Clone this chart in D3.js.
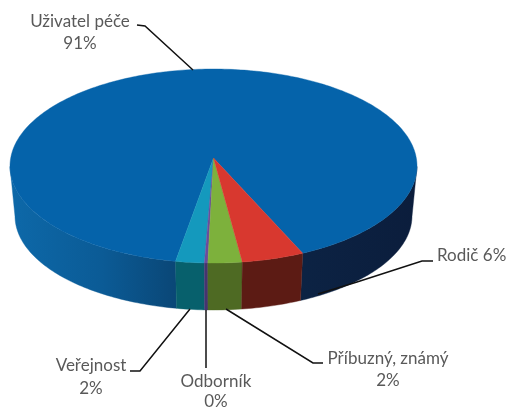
<!DOCTYPE html>
<html>
<head>
<meta charset="utf-8">
<script src="https://cdn.jsdelivr.net/npm/d3@7"></script>
<style>
    html, body { margin: 0; padding: 0; background: #fff; }
    svg { display: block; filter: blur(0.45px); }
    text { font-family: Lato, "Open Sans", sans-serif; font-size: 17px; fill: #595959; }
</style>
</head>
<body>
<svg id="chart" width="509" height="411"></svg>
<script>
// slice order runs clockwise from the red/blue edge
const categories = ['Uživatel péče', 'Veřejnost', 'Odborník', 'Příbuzný, známý', 'Rodič'];
const values     = [90.9, 2.1, 0.25, 2.5, 4.6];
const percents   = ['91%', '2%', '0%', '2%', '6%'];
const topColors  = ['#0563aa', '#1499bd', '#6a4c9c', '#7db13c', '#d8382f'];
const sideColors = ['url(#blueWall)', '#07606c', '#46336f', '#4e6a23', '#5c1b14'];

const rad = d => d * Math.PI / 180;

const svg = d3.select('#chart');

// perspective disc: angle 0 faces the viewer, apex sits above the ellipse centre
const persp = -0.082;
const project = (a, cx, cy, rx, ry) => {
    const u = Math.sin(a), v = Math.cos(a);
    const q = 1 + persp * v;
    return [
        cx + rx * u * Math.sqrt(1 - persp * persp) / q,
        cy + ry * (v + persp) / q,
    ];
};
const topFace = a => project(a, 213.5, 166, 203.5, 97);
const botFace = a => project(a, 213.5, 216, 198.5, 94);
const apex    = [213.5, 166 + 97 * persp];

const line = d3.line();
const sample = (a0, a1) => {
    const n = Math.max(2, Math.ceil((a1 - a0) / rad(1)));
    return d3.range(n + 1).map(i => a0 + (a1 - a0) * i / n);
};

const defs = svg.append('defs');
const grad = defs.append('linearGradient').attr('id', 'blueWall')
    .attr('gradientUnits', 'userSpaceOnUse')
    .attr('x1', 13).attr('x2', 417).attr('y1', 0).attr('y2', 0);
[[0, '#0d68a8'], [0.22, '#0b5b96'], [0.4, '#0a4777'], [0.7, '#0c2344'], [1, '#0b1d3c']]
    .forEach(([o, c]) => grad.append('stop').attr('offset', o).attr('stop-color', c));

const arcs = d3.pie().sort(null).startAngle(rad(24)).endAngle(rad(384))(values);

// front wall only, clipped at the two silhouette angles
const frontRanges = [[rad(-85), rad(85)], [rad(275), rad(445)]];
const wallG = svg.append('g');
arcs.forEach((d, i) => {
    frontRanges.forEach(([lo, hi]) => {
        const a0 = Math.max(d.startAngle, lo), a1 = Math.min(d.endAngle, hi);
        if (a1 <= a0) return;
        const s = sample(a0, a1);
        wallG.append('path')
            .attr('d', line([...s.map(topFace), ...s.slice().reverse().map(botFace)]) + 'Z')
            .attr('fill', sideColors[i])
            .attr('stroke', sideColors[i])
            .attr('stroke-width', 0.4);
    });
});

const faceG = svg.append('g');
arcs.forEach((d, i) => {
    faceG.append('path')
        .attr('d', line([apex, ...sample(d.startAngle, d.endAngle).map(topFace)]) + 'Z')
        .attr('fill', topColors[i])
        .attr('stroke', topColors[i])
        .attr('stroke-width', 0.4);
});

// leader lines and labels follow category order
const leaders = [
    [[137, 25], [145, 26], [193, 70]],
    [[130, 371], [140, 371], [190, 309]],
    [[206, 368], [206, 310]],
    [[323, 363], [313, 363], [226, 309]],
    [[433, 261], [422, 261], [357, 282], [318, 294]],
];
const labelBoxes = [
    { x: 80, y: 27, dy: 22 },
    { x: 91, y: 371, dy: 23 },
    { x: 216, y: 387, dy: 20 },
    { x: 388, y: 364, dy: 22 },
];

svg.append('g').selectAll('path').data(leaders).join('path')
    .attr('d', d => line(d))
    .attr('fill', 'none')
    .attr('stroke', '#111')
    .attr('stroke-width', 1.5);

labelBoxes.forEach((b, i) => {
    svg.append('text').attr('x', b.x).attr('y', b.y).attr('text-anchor', 'middle').text(categories[i]);
    svg.append('text').attr('x', b.x).attr('y', b.y + b.dy).attr('text-anchor', 'middle').text(percents[i]);
});
// Rodič sits on one line
svg.append('text').attr('x', 437).attr('y', 261).text(`${categories[4]} ${percents[4]}`);
</script>
</body>
</html>
